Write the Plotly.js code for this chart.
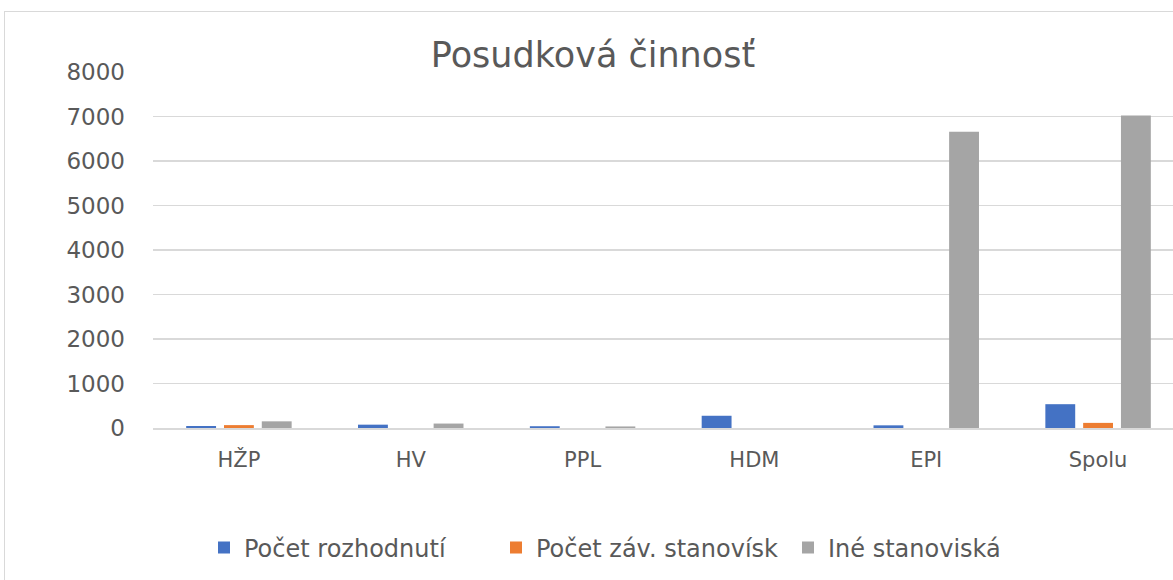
<!DOCTYPE html>
<html>
<head>
<meta charset="utf-8">
<script src="https://cdn.plot.ly/plotly-3.0.1.min.js"></script>
<style>
  html, body { margin: 0; padding: 0; background: #fff; }
  #wrap { position: relative; width: 1173px; height: 580px; overflow: hidden; }
  #frame { position: absolute; left: 4px; top: 11px; width: 1200px; height: 600px; border: 1.5px solid #d9d9d9; box-sizing: border-box; pointer-events: none; }
  #chart { position: absolute; left: 0; top: 0; width: 1184px; height: 580px; }
</style>
</head>
<body>
<div id="wrap">
  <div id="chart"></div>
  <div id="frame"></div>
</div>
<script>
const categories = ["HŽP", "HV", "PPL", "HDM", "EPI", "Spolu"];
const pocetRozhodnuti = [45, 75, 40, 275, 60, 535];
const pocetZavStanovisk = [65, 0, 0, 0, 0, 115];
const ineStanoviska = [150, 100, 35, 0, 6660, 7020];
const seriesNames = ["Počet rozhodnutí", "Počet záv. stanovísk", "Iné stanoviská"];
const yTicks = [0, 1000, 2000, 3000, 4000, 5000, 6000, 7000, 8000];

const colors = ["#4472C4", "#ED7D31", "#A5A5A5"];
const FONT = "DejaVu Sans, sans-serif";

const data = [pocetRozhodnuti, pocetZavStanovisk, ineStanoviska].map((vals, i) => ({
  type: "bar",
  x: categories,
  y: vals,
  name: seriesNames[i],
  marker: { color: colors[i] },
  hoverinfo: "x+y+name"
}));

const layout = {
  width: 1184,
  height: 580,
  paper_bgcolor: "rgba(0,0,0,0)",
  plot_bgcolor: "rgba(0,0,0,0)",
  margin: { l: 153, r: 0, t: 72, b: 152 },
  barmode: "group",
  bargap: 0.34,
  bargroupgap: 0.21,
  title: {
    text: "Posudková činnosť",
    font: { family: FONT, size: 35, color: "#595959" },
    x: 593 / 1184,
    xanchor: "center",
    y: 1 - 55 / 580,
    yanchor: "middle"
  },
  xaxis: {
    type: "category",
    showgrid: false,
    showline: true,
    linecolor: "#d9d9d9",
    linewidth: 2,
    ticks: "",
    tickfont: { family: FONT, size: 21, color: "#595959" },
    ticklabelstandoff: 12,
    fixedrange: true
  },
  yaxis: {
    range: [0, 8000],
    tickvals: yTicks,
    ticktext: yTicks.map(String),
    showgrid: true,
    gridcolor: "#d9d9d9",
    gridwidth: 1.5,
    zeroline: false,
    showline: false,
    ticks: "",
    tickfont: { family: FONT, size: 23, color: "#595959" },
    ticklabelstandoff: 27,
    fixedrange: true
  },
  showlegend: true,
  legend: {
    orientation: "h",
    xref: "container",
    yref: "container",
    x: 204 / 1184,
    xanchor: "left",
    y: 1 - 548 / 580,
    yanchor: "middle",
    font: { family: FONT, size: 24, color: "#595959" },
    itemwidth: 30,
    entrywidth: 247,
    entrywidthmode: "pixels",
    traceorder: "normal"
  }
};

Plotly.newPlot("chart", data, layout, { displayModeBar: false, staticPlot: true });
</script>
</body>
</html>
